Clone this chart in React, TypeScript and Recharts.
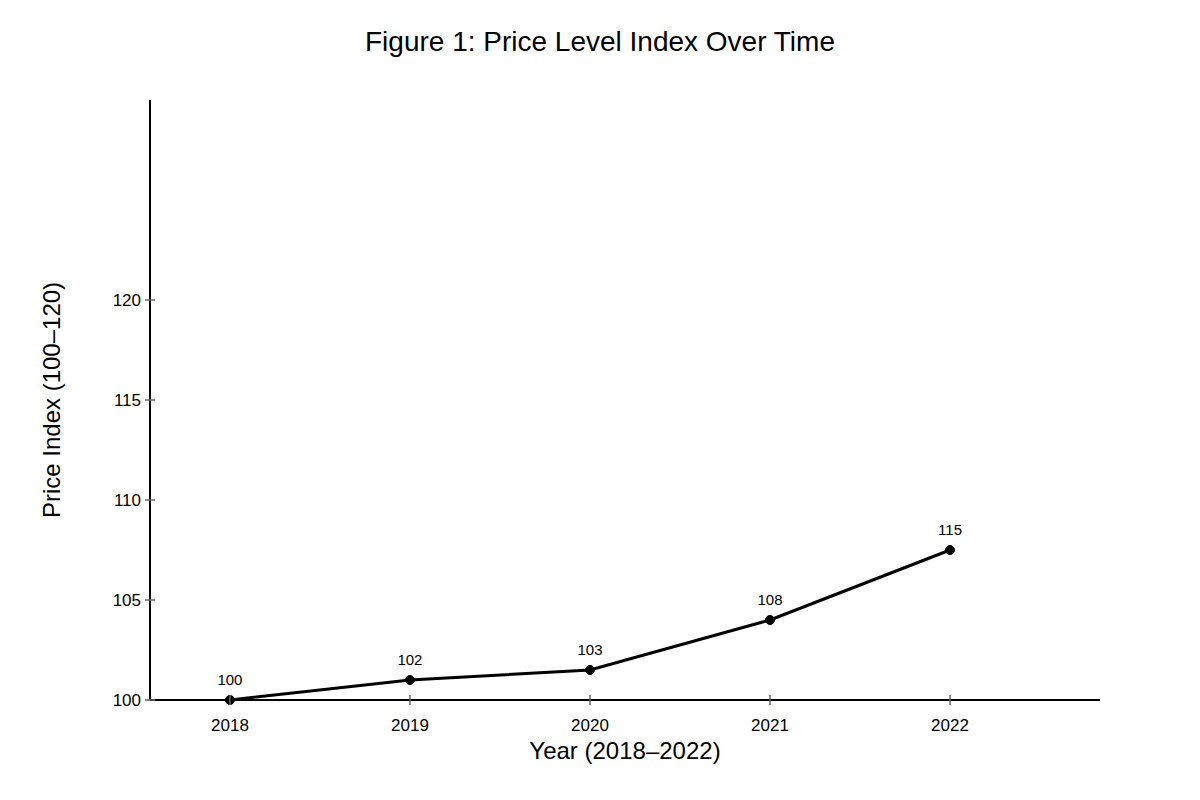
import { LineChart, Line, XAxis, YAxis, LabelList, Label } from "recharts";

const years = [2018, 2019, 2020, 2021, 2022];
// positions of the dots as drawn on the y scale
const plottedIndex = [100, 101, 101.5, 104, 107.5];
// numbers printed above each dot
const pointLabels = ["100", "102", "103", "108", "115"];
const yTicks = [100, 105, 110, 115, 120];

const data = years.map((year, i) => ({
  year,
  value: plottedIndex[i],
  label: pointLabels[i],
}));

const FONT = '"Liberation Sans", Arial, sans-serif';

function XTick(props: any) {
  const { x, y, payload } = props;
  return (
    <g>
      <line x1={x} x2={x} y1={y - 5} y2={y + 5} stroke="#666" strokeWidth={1.5} />
      <text x={x} y={y + 31} textAnchor="middle" fontSize={17} fill="#000" fontFamily={FONT}>
        {payload.value}
      </text>
    </g>
  );
}

function YTick(props: any) {
  const { x, y, payload } = props;
  return (
    <g>
      <line x1={x - 5} x2={x + 5} y1={y} y2={y} stroke="#666" strokeWidth={1.5} />
      <text x={x - 9} y={y} dy="0.36em" textAnchor="end" fontSize={17} fill="#000" fontFamily={FONT}>
        {payload.value}
      </text>
    </g>
  );
}

export default function App() {
  return (
    <div style={{ position: "absolute", left: 0, top: 0, width: 1200, height: 800, background: "#fff" }}>
      <LineChart
        width={1200}
        height={800}
        data={data}
        margin={{ top: 100, right: 100, bottom: 60, left: 90 }}
        style={{ fontFamily: FONT }}
      >
        <text x={600} y={51} textAnchor="middle" fontSize={28} fill="#000" fontFamily={FONT}>
          Figure 1: Price Level Index Over Time
        </text>
        <XAxis
          dataKey="year"
          type="number"
          domain={[2017.556, 2022.833]}
          ticks={years}
          height={40}
          tickLine={false}
          tickSize={0}
          tickMargin={0}
          tick={<XTick />}
          axisLine={{ stroke: "#000", strokeWidth: 2 }}
        >
          <Label
            content={(p: any) => {
              const vb = p.viewBox;
              return (
                <text
                  x={vb.x + vb.width / 2}
                  y={vb.y + 59}
                  textAnchor="middle"
                  fontSize={24}
                  fill="#000"
                  fontFamily={FONT}
                >
                  Year (2018–2022)
                </text>
              );
            }}
          />
        </XAxis>
        <YAxis
          type="number"
          domain={[100, 130]}
          ticks={yTicks}
          width={60}
          tickLine={false}
          tickSize={0}
          tickMargin={0}
          tick={<YTick />}
          axisLine={{ stroke: "#000", strokeWidth: 2 }}
        >
          <Label
            content={(p: any) => {
              const vb = p.viewBox;
              const cx = 60;
              const cy = vb.y + vb.height / 2;
              return (
                <text
                  x={cx}
                  y={cy}
                  transform={`rotate(-90 ${cx} ${cy})`}
                  textAnchor="middle"
                  fontSize={24}
                  fill="#000"
                  fontFamily={FONT}
                >
                  Price Index (100–120)
                </text>
              );
            }}
          />
        </YAxis>
        <Line
          type="linear"
          dataKey="value"
          stroke="#000"
          strokeWidth={3}
          dot={{ r: 4.5, fill: "#000", stroke: "#000", strokeWidth: 1, clipDot: false }}
          activeDot={false}
          isAnimationActive={false}
        >
          <LabelList
            dataKey="label"
            position="top"
            offset={15}
            fontSize={15}
            fill="#000"
            fontFamily={FONT}
          />
        </Line>
      </LineChart>
    </div>
  );
}
